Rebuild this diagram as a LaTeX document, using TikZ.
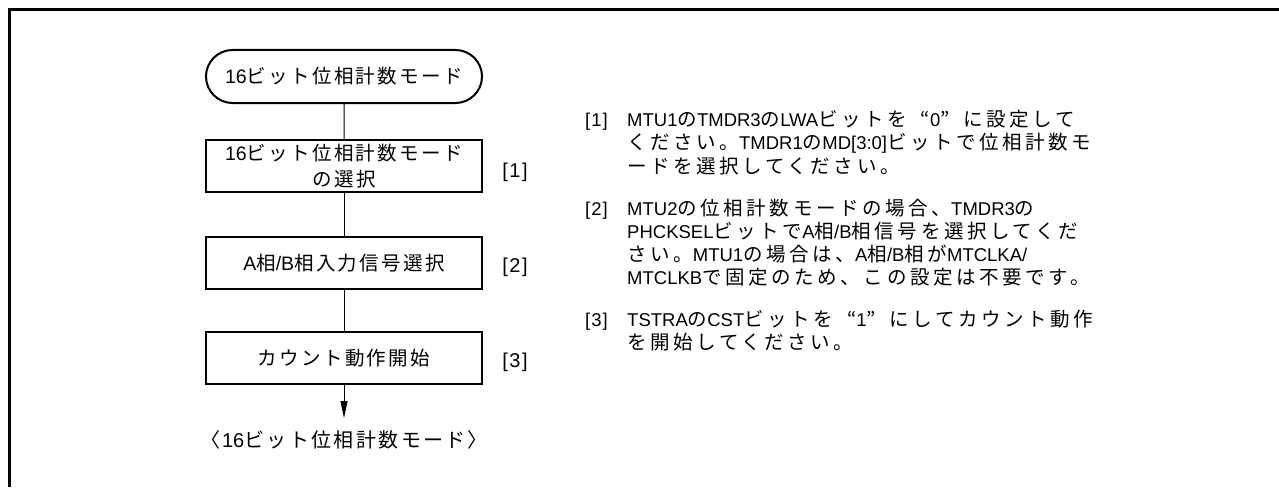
\documentclass[tikz,border=0pt]{standalone}
\usepackage{fontspec}
\usetikzlibrary{shapes.misc,arrows.meta}
\setmainfont{Liberation Sans}
\newfontfamily\latfont{Liberation Sans}
\newfontfamily\cjkA{Noto Sans CJK JP}[LetterSpace=12]
\newfontfamily\cjkB{Noto Sans CJK JP}[LetterSpace=18.5,Scale=1.054]
\let\cjksel\cjkA
\XeTeXinterchartokenstate=1
\newXeTeXintercharclass\CJKcls
\newcount\cjkcc
\cjkcc="3000
\loop
  \XeTeXcharclass\cjkcc=\CJKcls
  \ifnum\cjkcc<"9FFF \advance\cjkcc by 1
\repeat
\cjkcc="FF00
\loop
  \XeTeXcharclass\cjkcc=\CJKcls
  \ifnum\cjkcc<"FFEF \advance\cjkcc by 1
\repeat
\XeTeXcharclass"201C=\CJKcls
\XeTeXcharclass"201D=\CJKcls
\XeTeXinterchartoks 0 \CJKcls = {\cjksel}
\XeTeXinterchartoks 4095 \CJKcls = {\cjksel}
\XeTeXinterchartoks \CJKcls 0 = {\latfont}
\XeTeXinterchartoks \CJKcls 4095 = {\latfont}
\newcommand\oqt{\makebox[23.1pt][r]{“}}
\newcommand\cqt{\makebox[23.1pt][l]{”}}
\tikzset{
  flowbox/.style={draw, line width=2.2pt, minimum width=276pt, minimum height=52pt, inner sep=0pt, align=center, font=\fontsize{19.5}{26}\selectfont},
  term/.style={draw, rounded rectangle, line width=2pt, minimum width=276pt, minimum height=53pt, inner sep=0pt, font=\fontsize{19.5}{26}\selectfont},
  lbl/.style={font=\fontsize{20}{22}\selectfont, inner sep=0pt},
  noteline/.style={font=\let\cjksel\cjkB\fontsize{18.5}{19}\selectfont, inner sep=0pt, anchor=base west},
  conn/.style={line width=1pt},
}
\begin{document}
\begin{tikzpicture}[x=1pt,y=-1pt]
\useasboundingbox (0,0) rectangle (1279,487);
\draw[line width=3pt] (9.5,487) -- (9.5,9.5) -- (1279,9.5);
\node[term] (t0) at (344,76.5) {16ビット位相計数モード};
\node[flowbox] (b1) at (344,166) {16ビット位相計数モード\\の選択};
\node[flowbox] (b2) at (344,263) {A相/B相入力信号選択};
\node[flowbox] (b3) at (344,358) {カウント動作開始};
\node[lbl] (l1) at (515,172) {[\kern1.5pt1\kern1.5pt]};
\node[lbl] (l2) at (515,267) {[\kern1.5pt2\kern1.5pt]};
\node[lbl] (l3) at (515,362) {[\kern1.5pt3\kern1.5pt]};
\coordinate (endp) at (344,418);
\node[font=\fontsize{20}{22}\selectfont, inner sep=0pt] (e0) at (344,440) {〈\kern1.5pt16ビット位相計数モード\kern1.5pt〉};
\draw[conn] (t0) -- (b1);
\draw[conn] (b1) -- (b2);
\draw[conn] (b2) -- (b3);
\draw[conn, -{Triangle[length=17pt,width=7pt]}] (b3) -- (endp);
% note [1]
\node[noteline] (n1a) at (585,126) {\makebox[42pt][l]{[\kern1pt1\kern1pt]}MTU1のTMDR3のLWAビットを\oqt0\cqt に設定して};
\node[noteline] (n1b) at (627,149.5) {ください。TMDR1のMD[3:0]ビットで位相計数モ};
\node[noteline] (n1c) at (627,173) {ードを選択してください。};
% note [2]
\node[noteline] (n2a) at (585,215) {\makebox[42pt][l]{[\kern1pt2\kern1pt]}MTU2の位相計数モードの場合、TMDR3の};
\node[noteline] (n2b) at (627,238) {PHCKSELビットでA相/B相信号を選択してくだ};
\node[noteline] (n2c) at (627,261) {さい。MTU1の場合は、A相/B相がMTCLKA/};
\node[noteline] (n2d) at (627,284) {MTCLKBで固定のため、この設定は不要です。};
% note [3]
\node[noteline] (n3a) at (585,326) {\makebox[42pt][l]{[\kern1pt3\kern1pt]}TSTRAのCSTビットを\oqt1\cqt にしてカウント動作};
\node[noteline] (n3b) at (627,349) {を開始してください。};
\end{tikzpicture}
\end{document}
